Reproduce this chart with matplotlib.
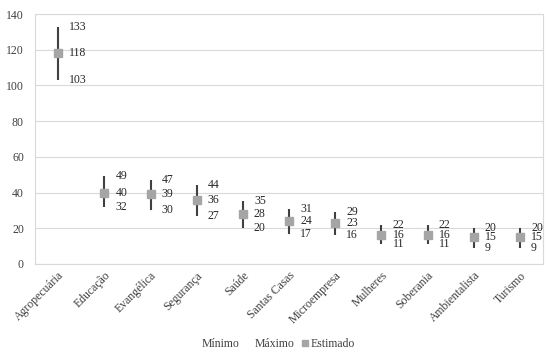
import numpy as np
import matplotlib.pyplot as plt
from matplotlib.lines import Line2D

plt.rcParams['font.family'] = ['Liberation Serif', 'DejaVu Serif']

categorias = ["Agropecuária", "Educação", "Evangélica", "Segurança", "Saúde",
              "Santas Casas", "Microempresa", "Mulheres", "Soberania",
              "Ambientalista", "Turismo"]
minimo = [103, 32, 30, 27, 20, 17, 16, 11, 11, 9, 9]
maximo = [133, 49, 47, 44, 35, 31, 29, 22, 22, 20, 20]
estimado = [118, 40, 39, 36, 28, 24, 23, 16, 16, 15, 15]

x = np.arange(len(categorias))

fig = plt.figure(figsize=(5.48, 3.62), dpi=100)
ax = fig.add_axes([0.064, 0.271, 0.927, 0.69])

ax.vlines(x, minimo, maximo, color='#404040', linewidth=1.5, zorder=2)
ax.plot(x, estimado, 's', color='#a5a5a5', markersize=6, zorder=3)

for xi, lo, hi, est in zip(x, minimo, maximo, estimado):
    for v in (lo, hi, est):
        ax.annotate(str(v), (xi, v), xytext=(8, 0), textcoords='offset points',
                    va='center', ha='left', fontsize=8.5, color='#262626')

ax.set_xlim(-0.5, len(categorias) - 0.5)
ax.set_ylim(0, 140)
ax.set_yticks(range(0, 141, 20))
ax.set_xticks(x)
ax.set_xticklabels(categorias, rotation=45, ha='right', rotation_mode='anchor',
                   fontsize=8.5, color='#404040')
ax.tick_params(axis='y', labelsize=8.5, labelcolor='#404040', length=0, pad=8)
ax.tick_params(axis='x', length=0, pad=4)
ax.grid(axis='y', color='#d9d9d9', linewidth=0.8)
ax.set_axisbelow(True)
for s in ax.spines.values():
    s.set_color('#d9d9d9')
    s.set_linewidth(0.8)

handles = [Line2D([], [], linestyle='none', label='Mínimo'),
           Line2D([], [], linestyle='none', label='Máximo'),
           Line2D([], [], marker='s', linestyle='none', color='#a5a5a5',
                  markersize=5, label='Estimado')]
fig.legend(handles=handles, loc='center', bbox_to_anchor=(0.5, 0.05), ncol=3,
           frameon=False, fontsize=8.5, handlelength=0.5, handletextpad=0.2,
           columnspacing=0.6, labelcolor='#404040')

fig.savefig('out.png', dpi=100)
